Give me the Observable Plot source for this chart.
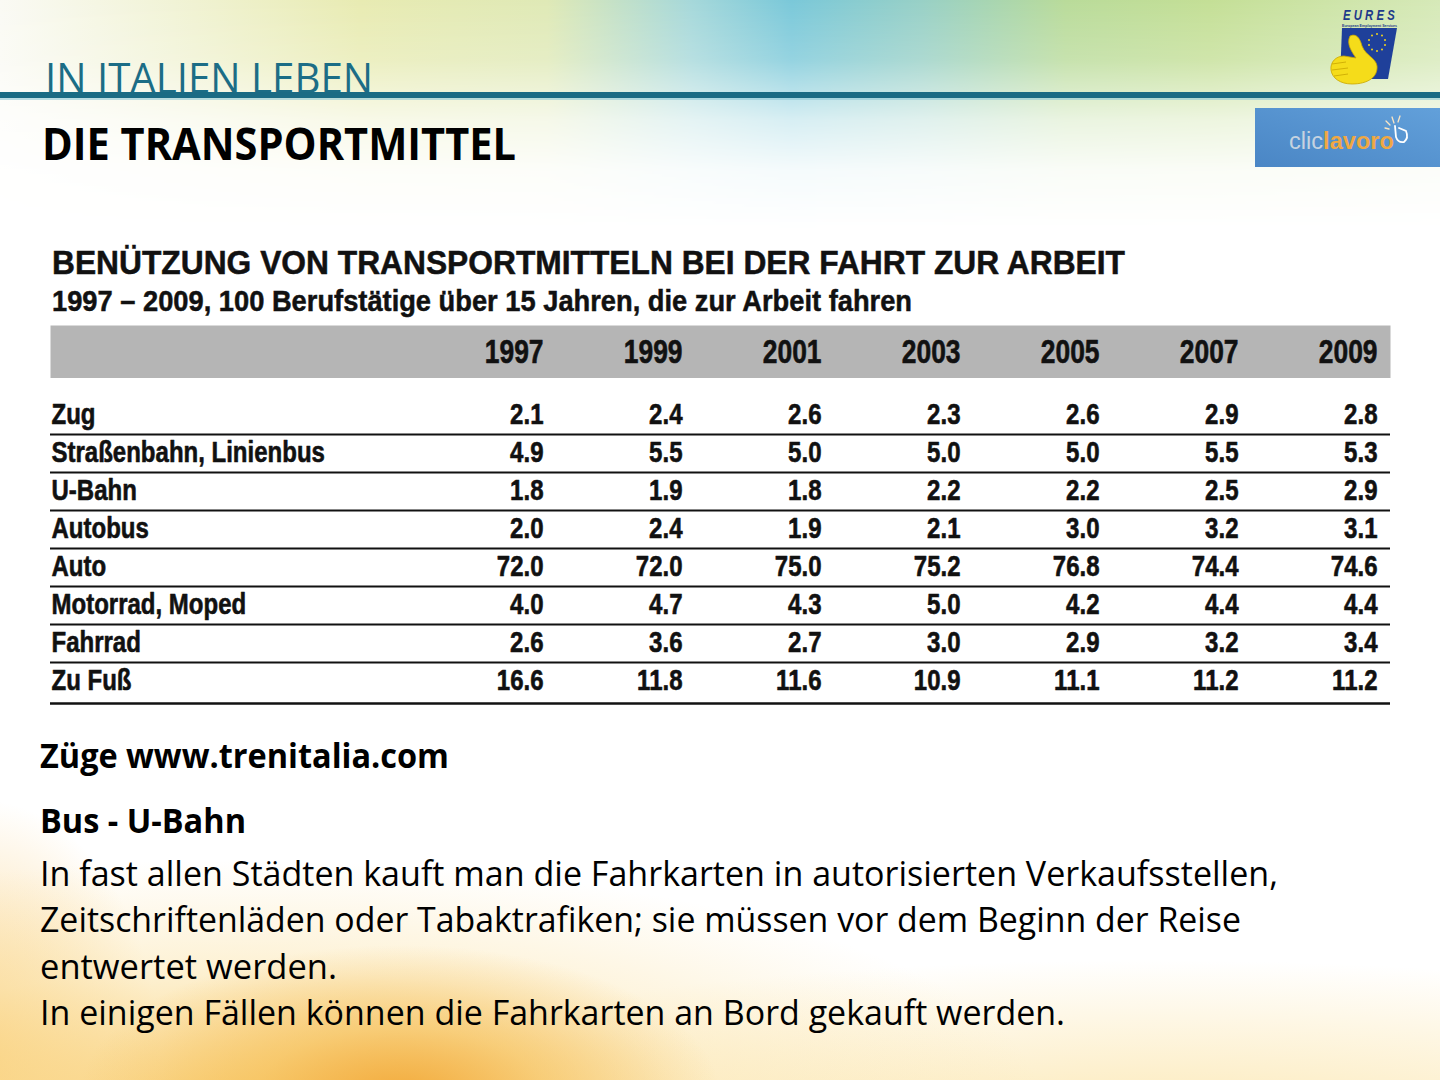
<!DOCTYPE html>
<html>
<head>
<meta charset="utf-8">
<script src="https://cdn.jsdelivr.net/npm/d3@7"></script>
<script src="https://cdn.jsdelivr.net/npm/@observablehq/plot@0.6"></script>
<style>
  html, body { margin: 0; padding: 0; }
  body { width: 1440px; height: 1080px; overflow: hidden; position: relative; background: #ffffff; }
  .layer { position: absolute; left: 0; top: 0; }
  #bgTop {
    width: 1440px; height: 260px;
    background: linear-gradient(90deg, #fafaf4 0%, #f1f3d6 12%, #e8ebb2 25%, #dfe9b6 38%, #a6d8da 48%, #7ac8d9 55%, #98d0c6 64%, #b9db9a 74%, #c4df96 84%, #d6e9b8 100%);
    -webkit-mask-image: linear-gradient(to bottom, #000 0px, rgba(0,0,0,0.8) 60px, rgba(0,0,0,0.3) 120px, rgba(0,0,0,0.08) 170px, transparent 230px);
    mask-image: linear-gradient(to bottom, #000 0px, rgba(0,0,0,0.8) 60px, rgba(0,0,0,0.3) 120px, rgba(0,0,0,0.08) 170px, transparent 230px);
  }
  #bgBottom {
    top: 760px; width: 1440px; height: 320px;
    background:
      radial-gradient(ellipse 320px 150px at 400px 335px, rgba(242,168,55,0.95) 0%, rgba(245,188,80,0.6) 45%, rgba(250,210,120,0) 100%),
      radial-gradient(ellipse 800px 240px at 240px 340px, rgba(249,205,110,0.9) 0%, rgba(251,225,160,0.45) 55%, rgba(255,255,255,0) 100%),
      radial-gradient(ellipse 180px 260px at -20px 300px, rgba(248,200,110,0.8) 0%, rgba(255,255,255,0) 100%),
      radial-gradient(ellipse 900px 170px at 1150px 370px, rgba(251,226,160,0.8) 0%, rgba(255,255,255,0) 100%);
  }
  #tableHead { position: absolute; left: 0; top: 325px; }
  #tableBody { position: absolute; left: 0; top: 378px; }
  #overlay { position: absolute; left: 0; top: 0; pointer-events: none; }
</style>
</head>
<body>
<div id="bgTop" class="layer"></div>
<div id="bgBottom" class="layer"></div>
<div id="tableHead"></div>
<div id="tableBody"></div>

<svg id="overlay" width="1440" height="1080" xmlns="http://www.w3.org/2000/svg">
  <defs>
    <linearGradient id="clicGrad" x1="0" y1="1" x2="1" y2="0">
      <stop offset="0" stop-color="#4a86c5"/>
      <stop offset="1" stop-color="#62a0da"/>
    </linearGradient>
  </defs>
  <!-- header -->
  <text x="45" y="93" font-family="'Open Sans','Liberation Sans',sans-serif" font-size="42" fill="#1c6d86" textLength="328" lengthAdjust="spacingAndGlyphs">IN ITALIEN LEBEN</text>
  <rect x="0" y="92" width="1440" height="6" fill="#1a6b84"/>
  <rect x="0" y="98" width="1440" height="2" fill="#8fc8d6" opacity="0.6"/>
  <text x="42" y="160" font-family="'Open Sans','Liberation Sans',sans-serif" font-weight="bold" font-size="44" fill="#000" textLength="474" lengthAdjust="spacingAndGlyphs">DIE TRANSPORTMITTEL</text>

  <!-- EURES logo -->
  <text x="1343" y="20" font-family="'Liberation Sans',sans-serif" font-style="italic" font-weight="bold" font-size="14" fill="#1e3a8a" textLength="55" lengthAdjust="spacingAndGlyphs" letter-spacing="4">EURES</text>
  <text x="1342" y="26.5" font-family="'Liberation Sans',sans-serif" font-weight="bold" font-size="3.5" fill="#1e3a8a" textLength="55" lengthAdjust="spacingAndGlyphs">European Employment Services</text>
  <polygon points="1342,28 1397,28 1388,79 1340,79" fill="#1f409a"/>
  <g fill="#f2d31c">
    <circle cx="1377" cy="34" r="1"/><circle cx="1382" cy="35.5" r="1"/><circle cx="1385" cy="40" r="1"/>
    <circle cx="1385" cy="45" r="1"/><circle cx="1382" cy="49.5" r="1"/><circle cx="1377" cy="51" r="1"/>
    <circle cx="1372" cy="49.5" r="1"/><circle cx="1369" cy="45" r="1"/><circle cx="1369" cy="40" r="1"/>
    <circle cx="1372" cy="35.5" r="1"/>
  </g>
  <path d="M1350,36 C1356,33 1360,38 1362,46 C1366,56 1376,58 1377,66 C1378,77 1368,84 1352,84 C1340,84 1332,78 1331,70 C1330,62 1336,56 1344,56 L1356,58 C1352,52 1346,44 1350,36 Z" fill="#f5dc1a" stroke="#c9a600" stroke-width="0.8"/>
  <path d="M1332,64 L1346,62 M1332,70 L1348,68 M1334,76 L1348,74" fill="none" stroke="#c9a600" stroke-width="0.8"/>

  <!-- cliclavoro logo -->
  <rect x="1255" y="108" width="185" height="59" fill="url(#clicGrad)"/>
  <text x="1289" y="149" font-family="'Liberation Sans',sans-serif" font-size="23" textLength="105" lengthAdjust="spacingAndGlyphs"><tspan fill="#c6d3e0">clic</tspan><tspan fill="#f0a843" font-weight="bold">lavoro</tspan></text>
  <g stroke="#ffffff" stroke-width="1.8" fill="none" stroke-linecap="round">
    <path d="M1395,126 L1396,137 Q1398,143 1404,142 Q1409,138 1406,131 L1399,128"/>
    <path d="M1394,123 L1392,117 M1390,125 L1386,121 M1398,122 L1400,116 M1389,129 L1385,128" stroke="#fbe6c4" stroke-width="1.3"/>
  </g>

  <!-- table title -->
  <text x="52" y="274" font-family="'Liberation Sans',Arial,sans-serif" font-weight="bold" font-size="33" fill="#111" stroke="#111" stroke-width="0.5" textLength="1073" lengthAdjust="spacingAndGlyphs">BENÜTZUNG VON TRANSPORTMITTELN BEI DER FAHRT ZUR ARBEIT</text>
  <text x="52" y="311" font-family="'Liberation Sans',Arial,sans-serif" font-weight="bold" font-size="30" fill="#111" stroke="#111" stroke-width="0.5" textLength="860" lengthAdjust="spacingAndGlyphs">1997 – 2009, 100 Berufstätige über 15 Jahren, die zur Arbeit fahren</text>

  <!-- body text -->
  <g font-family="'Open Sans','Noto Sans',sans-serif" font-size="34" fill="#000">
    <text x="40" y="768" font-weight="bold" textLength="409" lengthAdjust="spacingAndGlyphs">Züge www.trenitalia.com</text>
    <text x="40" y="833" font-weight="bold" textLength="206" lengthAdjust="spacingAndGlyphs">Bus - U-Bahn</text>
    <text x="40" y="886" textLength="1238" lengthAdjust="spacingAndGlyphs">In fast allen Städten kauft man die Fahrkarten in autorisierten Verkaufsstellen,</text>
    <text x="40" y="932" textLength="1201" lengthAdjust="spacingAndGlyphs">Zeitschriftenläden oder Tabaktrafiken; sie müssen vor dem Beginn der Reise</text>
    <text x="40" y="979" textLength="297" lengthAdjust="spacingAndGlyphs">entwertet werden.</text>
    <text x="40" y="1025" textLength="1025" lengthAdjust="spacingAndGlyphs">In einigen Fällen können die Fahrkarten an Bord gekauft werden.</text>
  </g>
</svg>

<script>
// ---- data ----
const years = ["1997", "1999", "2001", "2003", "2005", "2007", "2009"];
const modes = ["Zug", "Straßenbahn, Linienbus", "U-Bahn", "Autobus", "Auto", "Motorrad, Moped", "Fahrrad", "Zu Fuß"];
const zug          = [2.1, 2.4, 2.6, 2.3, 2.6, 2.9, 2.8];
const strassenbahn = [4.9, 5.5, 5.0, 5.0, 5.0, 5.5, 5.3];
const ubahn        = [1.8, 1.9, 1.8, 2.2, 2.2, 2.5, 2.9];
const autobus      = [2.0, 2.4, 1.9, 2.1, 3.0, 3.2, 3.1];
const auto         = [72.0, 72.0, 75.0, 75.2, 76.8, 74.4, 74.6];
const motorrad     = [4.0, 4.7, 4.3, 5.0, 4.2, 4.4, 4.4];
const fahrrad      = [2.6, 3.6, 2.7, 3.0, 2.9, 3.2, 3.4];
const zuFuss       = [16.6, 11.8, 11.6, 10.9, 11.1, 11.2, 11.2];

const series = [zug, strassenbahn, ubahn, autobus, auto, motorrad, fahrrad, zuFuss];
const cells = modes.flatMap((m, i) => years.map((y, j) => ({mode: m, year: y, value: series[i][j]})));

const tableFont = "'Liberation Sans',Arial,Helvetica,sans-serif";
const xScale = {type: "point", domain: years, range: [543, 1377], padding: 0, axis: null};

// condense text horizontally (Helvetica Condensed look)
function condense(svg, k) {
  d3.select(svg).selectAll("text").each(function () {
    const w = this.getComputedTextLength();
    if (w > 0) {
      this.setAttribute("textLength", (w * k).toFixed(1));
      this.setAttribute("lengthAdjust", "spacingAndGlyphs");
    }
  });
}

// ---- header band ----
const head = Plot.plot({
  width: 1440, height: 53,
  marginLeft: 50, marginRight: 50, marginTop: 0, marginBottom: 0,
  x: xScale,
  style: {background: "transparent", fontFamily: tableFont, color: "#111"},
  marks: [
    Plot.frame({fill: "#b5b5b5", stroke: "none"}),
    Plot.text(years, {x: d => d, text: d => d, textAnchor: "end", fontSize: 33, fontWeight: "bold", fill: "#111", stroke: "#111", strokeWidth: 0.6})
  ]
});
document.getElementById("tableHead").appendChild(head);
condense(head, 0.8);

// ---- body ----
const body = Plot.plot({
  width: 1440, height: 335,
  marginLeft: 50, marginRight: 50, marginTop: 16, marginBottom: 13,
  x: xScale,
  y: {type: "band", domain: modes, padding: 0, axis: null},
  style: {background: "transparent", fontFamily: tableFont, color: "#111"},
  marks: [
    Plot.ruleY(modes.slice(0, -1), {y: d => d, dy: 20, stroke: "#111", strokeWidth: 2}),
    Plot.ruleY(modes.slice(-1), {y: d => d, dy: 23, stroke: "#111", strokeWidth: 2.5}),
    Plot.text(modes, {y: d => d, text: d => d, frameAnchor: "left", textAnchor: "start", dx: 1, fontSize: 30, fontWeight: "bold", fill: "#111", stroke: "#111", strokeWidth: 0.6}),
    Plot.text(cells, {x: "year", y: "mode", text: d => d.value.toFixed(1), textAnchor: "end", fontSize: 30, fontWeight: "bold", fill: "#111", stroke: "#111", strokeWidth: 0.6})
  ]
});
document.getElementById("tableBody").appendChild(body);
condense(body, 0.8);
</script>
</body>
</html>
